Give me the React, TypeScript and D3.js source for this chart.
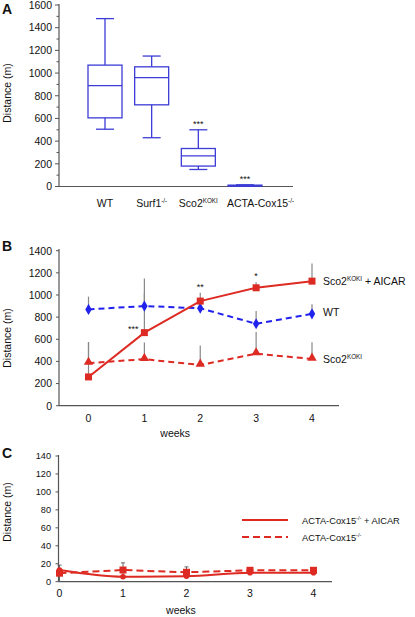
import React from "react";
import * as d3 from "d3";

// Panel A: box plot data
const groupsA = ["WT", "Surf1", "Sco2", "ACTA"];
const groupSup = ["", "-/-", "KOKI", "-/-"];
const groupBase = ["WT", "Surf1", "Sco2", "ACTA-Cox15"];
const boxMin = [505, 430, 150, 3];
const boxQ1 = [605, 720, 180, 5];
const boxMed = [890, 960, 270, 8];
const boxQ3 = [1070, 1055, 335, 12];
const boxMax = [1480, 1150, 500, 15];
const boxStars = ["", "", "***", "***"];
const ticksA = [0, 200, 400, 600, 800, 1000, 1200, 1400, 1600];

// Panel B
const weeks = [0, 1, 2, 3, 4];
const wtB = [870, 900, 880, 740, 830];
const wtErrB = [115, 120, 80, 115, 86];
const sco2B = [385, 420, 368, 470, 422];
const sco2ErrB = [190, 150, 175, 195, 150];
const aicarB = [260, 660, 945, 1065, 1125];
const aicarErrB = [310, 490, 75, 50, 160];
const aicarStars = ["", "***", "**", "*", ""];
const ticksB = [0, 200, 400, 600, 800, 1000, 1200, 1400];

// Panel C
const actaAicarC = [13, 5.5, 6, 10, 10];
const actaC = [9.5, 13, 10.5, 12.7, 12.7];
const actaErrC = [9, 8, 6, 1, 1];
const ticksC = [0, 20, 40, 60, 80, 100, 120, 140];

const RED = "#dd2a22";
const BLUE = "#2222ee";
const BOX = "#3c3cd6";
const AX = "#555";
const FONT = "Liberation Sans, Arial, sans-serif";

function Label({ x, y, base, sup, size = 11, anchor = "middle", rest = "" }: any) {
  return (
    <text x={x} y={y} fontSize={size} textAnchor={anchor} fontFamily={FONT} fill="#111">
      {base}
      {sup ? (
        <tspan fontSize={size * 0.6} dy={-size * 0.38}>{sup}</tspan>
      ) : null}
      {rest ? <tspan dy={sup ? size * 0.38 : 0}>{rest}</tspan> : null}
    </text>
  );
}

export default function App() {
  // ---------- Panel A ----------
  const yA = d3.scaleLinear().domain([0, 1600]).range([186.5, 5]);
  const xA = d3.scalePoint().domain(groupsA).range([105, 245]);
  const minorA = d3.range(100, 1600, 200);
  const boxW = 34;

  // ---------- Panel B ----------
  const yB = d3.scaleLinear().domain([0, 1400]).range([405.7, 250.7]);
  const xB = d3.scaleLinear().domain([0, 4]).range([88.5, 312]);
  const dashedLine = d3.line<number>().x((_, i) => xB(weeks[i])).y((d) => yB(d));

  // ---------- Panel C ----------
  const yC = d3.scaleLinear().domain([0, 140]).range([581.7, 456]);
  const xC = d3.scaleLinear().domain([0, 4]).range([59.5, 313.5]);
  const lineC = d3.line<number>().x((_, i) => xC(weeks[i])).y((d) => yC(d)).curve(d3.curveMonotoneX);
  const lineCd = d3.line<number>().x((_, i) => xC(weeks[i])).y((d) => yC(d));

  const diamond = d3.symbol().type(d3.symbolDiamond).size(36)();
  const triangle = d3.symbol().type(d3.symbolTriangle).size(38)();

  return (
    <svg width={415} height={617} style={{ position: "absolute", left: 0, top: 0 }} fontFamily={FONT}>
      <rect width={415} height={617} fill="#fff" />
      {/* ===== Panel A ===== */}
      <text x={2} y={14} fontSize={14} fontWeight="bold" fill="#111">A</text>
      <text transform={`translate(11,93) rotate(-90)`} fontSize={10.5} textAnchor="middle" fill="#111">Distance (m)</text>
      <line x1={59} x2={59} y1={4} y2={186.5} stroke={AX} strokeWidth={1.2} />
      <line x1={59} x2={293} y1={186.5} y2={186.5} stroke={AX} strokeWidth={1.2} />
      {ticksA.map((t) => (
        <g key={t}>
          <line x1={55} x2={59} y1={yA(t)} y2={yA(t)} stroke={AX} />
          <text x={52} y={yA(t) + 3.8} fontSize={10.5} textAnchor="end" fill="#111">{t}</text>
        </g>
      ))}
      {minorA.map((t) => (
        <line key={t} x1={56.5} x2={59} y1={yA(t)} y2={yA(t)} stroke={AX} />
      ))}
      {groupsA.map((g, i) => {
        const cx = xA(g)!;
        const w = boxW;
        return (
          <g key={g} stroke={BOX} strokeWidth={1.3} fill="none">
            <line x1={cx} x2={cx} y1={yA(boxMax[i])} y2={yA(boxQ3[i])} />
            <line x1={cx} x2={cx} y1={yA(boxQ1[i])} y2={yA(boxMin[i])} />
            <line x1={cx - 9} x2={cx + 9} y1={yA(boxMax[i])} y2={yA(boxMax[i])} />
            <line x1={cx - 9} x2={cx + 9} y1={yA(boxMin[i])} y2={yA(boxMin[i])} />
            <rect x={cx - w / 2} y={yA(boxQ3[i])} width={w} height={Math.max(1, yA(boxQ1[i]) - yA(boxQ3[i]))}
              fill={i === 3 ? BOX : "none"} />
            <line x1={cx - w / 2} x2={cx + w / 2} y1={yA(boxMed[i])} y2={yA(boxMed[i])} />
            {boxStars[i] ? (
              <text x={cx} y={yA(boxMax[i]) - 3} fontSize={9} textAnchor="middle" fill="#111" stroke="none">{boxStars[i]}</text>
            ) : null}
          </g>
        );
      })}
      {groupsA.map((g, i) =>
        i === 3 ? (
          <Label key={g} x={xA(g)! - 18} y={207} base={groupBase[i]} sup={groupSup[i]} size={10.5} anchor="start" />
        ) : (
          <Label key={g} x={xA(g)!} y={207} base={groupBase[i]} sup={groupSup[i]} size={10.5} />
        )
      )}

      {/* ===== Panel B ===== */}
      <text x={2} y={251} fontSize={14} fontWeight="bold" fill="#111">B</text>
      <text transform={`translate(11,338) rotate(-90)`} fontSize={10.5} textAnchor="middle" fill="#111">Distance (m)</text>
      <line x1={59} x2={59} y1={249} y2={405.7} stroke={AX} strokeWidth={1.2} />
      <line x1={59} x2={339} y1={405.7} y2={405.7} stroke={AX} strokeWidth={1.2} />
      {ticksB.map((t) => (
        <g key={t}>
          <line x1={56} x2={59} y1={yB(t)} y2={yB(t)} stroke={AX} />
          <text x={52} y={yB(t) + 3.8} fontSize={10.5} textAnchor="end" fill="#111">{t}</text>
        </g>
      ))}
      {weeks.map((w) => (
        <text key={w} x={xB(w)} y={422} fontSize={10.5} textAnchor="middle" fill="#111">{w}</text>
      ))}
      <text x={xB(2) - 25} y={437} fontSize={10.5} textAnchor="middle" fill="#111">weeks</text>
      {/* error bars */}
      {[[wtB, wtErrB], [sco2B, sco2ErrB], [aicarB, aicarErrB]].map(([vals, errs], k) =>
        weeks.map((w, i) => (
          <line key={`e${k}${i}`} x1={xB(w)} x2={xB(w)} y1={yB(vals[i])} y2={yB(vals[i] + errs[i])} stroke="#888" strokeWidth={1.2} />
        ))
      )}
      <path d={dashedLine(sco2B)!} fill="none" stroke={RED} strokeWidth={2} strokeDasharray="6,4" />
      <path d={dashedLine(wtB)!} fill="none" stroke={BLUE} strokeWidth={2} strokeDasharray="6,4" />
      <path d={dashedLine(aicarB)!} fill="none" stroke={RED} strokeWidth={2} />
      {weeks.map((w, i) => (
        <path key={`t${i}`} d={triangle!} transform={`translate(${xB(w)},${yB(sco2B[i]) - 1})`} fill={RED} />
      ))}
      {weeks.map((w, i) => (
        <path key={`d${i}`} d={diamond!} transform={`translate(${xB(w)},${yB(wtB[i])})`} fill={BLUE} />
      ))}
      {weeks.map((w, i) => (
        <rect key={`s${i}`} x={xB(w) - 3.5} y={yB(aicarB[i]) - 3.5} width={7} height={7} fill={RED} />
      ))}
      {weeks.map((w, i) =>
        aicarStars[i] ? (
          <text key={`st${i}`} x={i === 1 ? xB(w) - 11 : xB(w)} y={i === 1 ? yB(aicarB[i]) - 1 : yB(aicarB[i] + aicarErrB[i]) - 3}
            fontSize={9} textAnchor="middle" fill="#111">{aicarStars[i]}</text>
        ) : null
      )}
      <Label x={323} y={285} base="Sco2" sup="KOKI" rest=" + AICAR" size={10.5} anchor="start" />
      <Label x={323} y={316} base="WT" size={10.5} anchor="start" />
      <Label x={323} y={363} base="Sco2" sup="KOKI" size={10.5} anchor="start" />

      {/* ===== Panel C ===== */}
      <text x={2} y={458} fontSize={14} fontWeight="bold" fill="#111">C</text>
      <text transform={`translate(11,512) rotate(-90)`} fontSize={10.5} textAnchor="middle" fill="#111">Distance (m)</text>
      <line x1={58.5} x2={58.5} y1={455} y2={581.7} stroke={AX} strokeWidth={1.2} />
      <line x1={58.5} x2={332} y1={581.7} y2={581.7} stroke={AX} strokeWidth={1.2} />
      {ticksC.map((t) => (
        <g key={t}>
          <line x1={55.5} x2={58.5} y1={yC(t)} y2={yC(t)} stroke={AX} />
          <text x={51} y={yC(t) + 3.3} fontSize={9.2} textAnchor="end" fill="#111">{t}</text>
        </g>
      ))}
      {weeks.map((w) => (
        <text key={w} x={xC(w)} y={596.5} fontSize={10.5} textAnchor="middle" fill="#111">{w}</text>
      ))}
      <text x={181} y={614} fontSize={10.5} textAnchor="middle" fill="#111">weeks</text>
      {weeks.map((w, i) => (
        <g key={`ce${i}`} stroke="#666" strokeWidth={1}>
          <line x1={xC(w)} x2={xC(w)} y1={yC(Math.max(0, actaC[i] - actaErrC[i]))} y2={yC(actaC[i] + actaErrC[i])} />
          <line x1={xC(w) - 2} x2={xC(w) + 2} y1={yC(actaC[i] + actaErrC[i])} y2={yC(actaC[i] + actaErrC[i])} />
        </g>
      ))}
      <path d={lineC(actaAicarC)!} fill="none" stroke={RED} strokeWidth={2} />
      <path d={lineCd(actaC)!} fill="none" stroke={RED} strokeWidth={2} strokeDasharray="7,4" />
      {weeks.map((w, i) => (
        <circle key={`cc${i}`} cx={xC(w)} cy={yC(actaAicarC[i])} r={2.8} fill={RED} />
      ))}
      {weeks.map((w, i) => (
        <rect key={`cs${i}`} x={xC(w) - 3.5} y={yC(actaC[i]) - 3.5} width={7} height={7} fill={RED} />
      ))}
      <line x1={242} x2={288} y1={520} y2={520} stroke={RED} strokeWidth={2} />
      <line x1={242} x2={288} y1={537} y2={537} stroke={RED} strokeWidth={2} strokeDasharray="7,4" />
      <Label x={302} y={523.5} base="ACTA-Cox15" sup="-/-" rest=" + AICAR" size={9.3} anchor="start" />
      <Label x={302} y={540.5} base="ACTA-Cox15" sup="-/-" size={9.3} anchor="start" />
    </svg>
  );
}
